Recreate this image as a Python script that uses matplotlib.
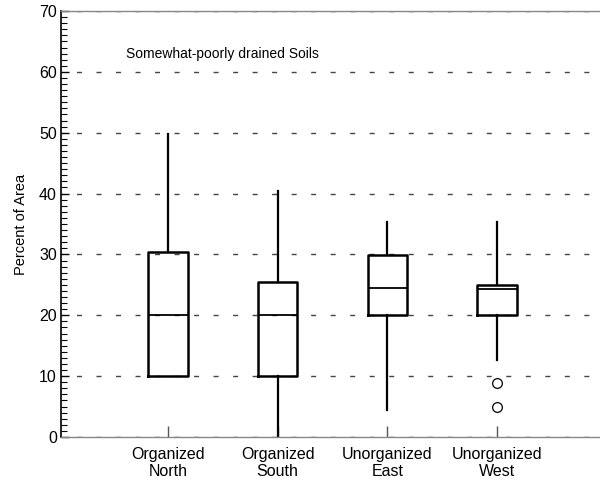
""" Boxplot of somewhat-poorly drained soil area by region. """

import matplotlib.pyplot as plt
from matplotlib.ticker import MultipleLocator

plt.rcParams['font.family'] = ['Liberation Sans', 'DejaVu Sans']

# box statistics
labels = ["Organized\nNorth", "Organized\nSouth", "Unorganized\nEast",
          "Unorganized\nWest"]
whislo = [10.0, 0.0, 4.4, 12.6]
q1 = [10.0, 10.0, 20.0, 20.0]
med = [20.0, 20.0, 24.5, 24.4]
q3 = [30.4, 25.5, 29.9, 24.9]
whishi = [49.8, 40.4, 35.4, 35.4]
fliers = [[], [], [], [8.8, 4.9]]

stats = []
for i in range(len(labels)):
    stats.append(dict(whislo=whislo[i], q1=q1[i], med=med[i], q3=q3[i],
                      whishi=whishi[i], fliers=fliers[i], label=labels[i]))

fig = plt.figure(figsize=(6.0, 4.84), dpi=100)
ax = fig.add_axes([0.1017, 0.0971, 0.8983, 0.8802])

ax.bxp(stats, positions=[1, 2, 3, 4], widths=0.36, showcaps=False,
       boxprops=dict(color='black', linewidth=1.8),
       medianprops=dict(color='black', linewidth=1.3),
       whiskerprops=dict(color='black', linewidth=1.6),
       flierprops=dict(marker='o', markersize=7, markerfacecolor='none',
                       markeredgecolor='black', markeredgewidth=0.9))

ax.set_xlim(0.025, 4.94)
ax.set_ylim(0, 70)
ax.yaxis.set_major_locator(MultipleLocator(10))
ax.yaxis.set_minor_locator(MultipleLocator(1))
ax.tick_params(axis='y', which='major', direction='in', length=6, width=1,
               labelsize=11.5, pad=3)
ax.tick_params(axis='y', which='minor', direction='in', length=4, width=0.8)
ax.tick_params(axis='x', which='major', direction='in', length=8, width=1,
               color='#555555', labelsize=11.5, pad=7)

# dashes every ~19.5 px, first one ~16 px right of the spine
ax.yaxis.grid(True, which='major', color='#444444', linewidth=1,
              linestyle=(2.9, (3.6, 10.45)))
ax.set_axisbelow(True)

ax.spines['right'].set_visible(False)
ax.spines['left'].set_color('black')
ax.spines['left'].set_linewidth(1.2)
for s in ('top', 'bottom'):
    ax.spines[s].set_color('#888888')
    ax.spines[s].set_linewidth(1)

ax.set_ylabel("Percent of Area", fontsize=10.5, labelpad=8)
ax.text(0.617, 63.0, "Somewhat-poorly drained Soils", fontsize=10,
        ha='left', va='center')

fig.savefig("out.png")
